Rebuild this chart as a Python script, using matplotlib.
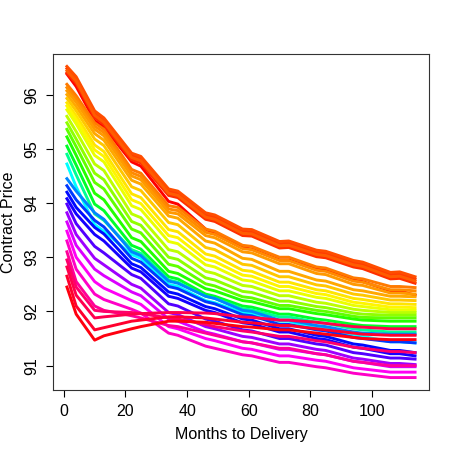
import matplotlib
matplotlib.use("Agg")
import matplotlib.pyplot as plt
from matplotlib.colors import hsv_to_rgb

months = [1, 4, 10, 13, 22, 25, 34, 37, 46, 49, 58, 61, 70, 73, 82, 85, 94, 97, 106, 109, 114]

# curves in date order (rainbow hue goes with date)
red_first = [96.38, 96.15, 95.52, 95.40, 94.76, 94.68, 94.03, 93.98, 93.52, 93.43, 93.18, 93.15, 92.95, 92.95, 92.78, 92.76, 92.58, 92.55, 92.38, 92.38, 92.30]
top_1 = [96.40, 96.21, 95.58, 95.45, 94.80, 94.74, 94.14, 94.10, 93.70, 93.66, 93.40, 93.39, 93.17, 93.18, 93.01, 92.99, 92.82, 92.79, 92.60, 92.61, 92.52]
top_2 = [96.48, 96.29, 95.66, 95.53, 94.88, 94.82, 94.22, 94.18, 93.78, 93.74, 93.48, 93.47, 93.25, 93.26, 93.09, 93.07, 92.90, 92.87, 92.68, 92.69, 92.60]
top_3 = [96.52, 96.33, 95.70, 95.57, 94.92, 94.86, 94.26, 94.22, 93.82, 93.78, 93.52, 93.51, 93.29, 93.30, 93.13, 93.11, 92.94, 92.91, 92.72, 92.73, 92.64]
top_4 = [96.44, 96.25, 95.62, 95.49, 94.84, 94.78, 94.18, 94.14, 93.74, 93.70, 93.44, 93.43, 93.21, 93.22, 93.05, 93.03, 92.86, 92.83, 92.64, 92.65, 92.56]
second_1 = [96.19, 95.98, 95.48, 95.36, 94.62, 94.55, 93.95, 93.92, 93.52, 93.48, 93.22, 93.20, 93.00, 93.00, 92.82, 92.80, 92.62, 92.60, 92.46, 92.46, 92.44]
second_2 = [96.13, 95.92, 95.42, 95.30, 94.56, 94.49, 93.89, 93.86, 93.46, 93.42, 93.16, 93.14, 92.94, 92.94, 92.76, 92.74, 92.56, 92.54, 92.40, 92.40, 92.38]
second_3 = [96.07, 95.86, 95.36, 95.24, 94.50, 94.43, 93.83, 93.80, 93.40, 93.36, 93.10, 93.08, 92.88, 92.88, 92.70, 92.68, 92.50, 92.48, 92.34, 92.34, 92.32]
yellow_1 = [96.00, 95.78, 95.28, 95.16, 94.42, 94.35, 93.76, 93.72, 93.30, 93.26, 92.98, 92.96, 92.74, 92.74, 92.58, 92.56, 92.40, 92.38, 92.28, 92.28, 92.27]
yellow_2 = [95.93, 95.70, 95.18, 95.06, 94.30, 94.23, 93.64, 93.60, 93.18, 93.14, 92.87, 92.85, 92.64, 92.64, 92.49, 92.47, 92.32, 92.30, 92.21, 92.21, 92.20]
yellow_3 = [95.85, 95.61, 95.07, 94.95, 94.17, 94.10, 93.51, 93.47, 93.06, 93.02, 92.76, 92.74, 92.54, 92.54, 92.40, 92.38, 92.24, 92.22, 92.14, 92.14, 92.13]
yellow_4 = [95.79, 95.54, 94.98, 94.86, 94.06, 93.99, 93.40, 93.36, 92.96, 92.92, 92.67, 92.65, 92.46, 92.46, 92.33, 92.31, 92.17, 92.15, 92.08, 92.08, 92.07]
yellow_5 = [95.72, 95.46, 94.88, 94.76, 93.95, 93.88, 93.29, 93.25, 92.86, 92.82, 92.58, 92.56, 92.38, 92.38, 92.26, 92.24, 92.11, 92.09, 92.03, 92.03, 92.02]
lime_1 = [95.60, 95.32, 94.72, 94.60, 93.80, 93.73, 93.14, 93.10, 92.74, 92.70, 92.48, 92.46, 92.29, 92.29, 92.17, 92.15, 92.04, 92.02, 91.98, 91.98, 91.98]
lime_2 = [95.48, 95.18, 94.55, 94.43, 93.66, 93.59, 93.00, 92.96, 92.62, 92.58, 92.37, 92.35, 92.19, 92.19, 92.09, 92.07, 91.97, 91.95, 91.93, 91.93, 91.93]
lime_3 = [95.36, 95.04, 94.38, 94.26, 93.52, 93.45, 92.87, 92.83, 92.51, 92.47, 92.27, 92.25, 92.11, 92.11, 92.02, 92.00, 91.91, 91.89, 91.88, 91.88, 91.88]
green_1 = [95.22, 94.88, 94.18, 94.06, 93.36, 93.29, 92.74, 92.70, 92.42, 92.38, 92.20, 92.18, 92.05, 92.05, 91.96, 91.94, 91.86, 91.84, 91.82, 91.82, 91.82]
green_2 = [95.05, 94.70, 93.98, 93.86, 93.22, 93.15, 92.64, 92.60, 92.32, 92.28, 92.10, 92.08, 91.95, 91.95, 91.86, 91.84, 91.76, 91.74, 91.72, 91.72, 91.72]
cyan_1 = [94.90, 94.52, 93.80, 93.68, 93.14, 93.07, 92.58, 92.54, 92.28, 92.24, 92.05, 92.03, 91.90, 91.90, 91.80, 91.78, 91.68, 91.66, 91.62, 91.62, 91.62]
cyan_2 = [94.72, 94.30, 93.60, 93.48, 93.05, 92.98, 92.50, 92.46, 92.20, 92.16, 91.98, 91.96, 91.82, 91.82, 91.70, 91.68, 91.56, 91.54, 91.44, 91.44, 91.42]
blue_1 = [94.45, 94.22, 93.82, 93.70, 93.10, 93.03, 92.56, 92.52, 92.28, 92.24, 92.02, 92.00, 91.84, 91.84, 91.74, 91.72, 91.62, 91.60, 91.58, 91.58, 91.58]
blue_2 = [94.32, 94.06, 93.68, 93.56, 92.98, 92.91, 92.46, 92.42, 92.18, 92.14, 91.94, 91.92, 91.76, 91.76, 91.66, 91.64, 91.52, 91.50, 91.44, 91.44, 91.42]
blue_3 = [94.20, 93.92, 93.55, 93.43, 92.88, 92.81, 92.36, 92.32, 92.09, 92.05, 91.86, 91.84, 91.68, 91.68, 91.56, 91.54, 91.40, 91.38, 91.28, 91.28, 91.24]
blue_4 = [94.08, 93.80, 93.42, 93.30, 92.80, 92.73, 92.28, 92.24, 92.02, 91.98, 91.79, 91.77, 91.62, 91.62, 91.50, 91.48, 91.34, 91.32, 91.22, 91.22, 91.18]
purple_1 = [93.98, 93.62, 93.20, 93.08, 92.68, 92.61, 92.14, 92.10, 91.86, 91.82, 91.66, 91.64, 91.50, 91.50, 91.40, 91.38, 91.24, 91.22, 91.14, 91.14, 91.12]
purple_2 = [93.82, 93.42, 92.98, 92.86, 92.50, 92.43, 91.98, 91.94, 91.72, 91.68, 91.54, 91.52, 91.40, 91.40, 91.30, 91.28, 91.14, 91.12, 91.04, 91.04, 91.02]
magenta_1 = [93.65, 93.22, 92.78, 92.66, 92.36, 92.29, 91.86, 91.82, 91.62, 91.58, 91.44, 91.42, 91.30, 91.30, 91.22, 91.20, 91.08, 91.06, 90.98, 90.98, 90.98]
magenta_2 = [93.48, 93.00, 92.55, 92.43, 92.20, 92.13, 91.72, 91.68, 91.50, 91.46, 91.32, 91.30, 91.18, 91.18, 91.10, 91.08, 90.96, 90.94, 90.88, 90.88, 90.88]
magenta_3 = [93.30, 92.78, 92.32, 92.22, 92.04, 91.97, 91.60, 91.56, 91.36, 91.32, 91.20, 91.18, 91.06, 91.06, 90.98, 90.96, 90.86, 90.84, 90.78, 90.78, 90.78]
pink_1 = [93.10, 92.55, 92.10, 92.02, 91.92, 91.88, 91.74, 91.72, 91.60, 91.56, 91.44, 91.42, 91.32, 91.32, 91.22, 91.20, 91.08, 91.06, 91.00, 91.00, 91.00]
pink_2 = [92.95, 92.45, 92.02, 92.00, 91.98, 91.96, 91.88, 91.86, 91.76, 91.72, 91.64, 91.62, 91.54, 91.54, 91.46, 91.44, 91.34, 91.32, 91.26, 91.26, 91.24]
red_1 = [92.82, 92.30, 91.88, 91.90, 91.95, 91.96, 91.98, 91.98, 91.97, 91.96, 91.90, 91.89, 91.84, 91.84, 91.80, 91.78, 91.72, 91.71, 91.68, 91.68, 91.68]
red_2 = [92.65, 92.10, 91.66, 91.70, 91.82, 91.84, 91.90, 91.90, 91.88, 91.86, 91.80, 91.79, 91.74, 91.74, 91.68, 91.66, 91.60, 91.58, 91.56, 91.56, 91.56]
red_3 = [92.45, 91.95, 91.47, 91.55, 91.68, 91.72, 91.82, 91.82, 91.80, 91.78, 91.72, 91.71, 91.66, 91.66, 91.60, 91.58, 91.52, 91.50, 91.48, 91.48, 91.48]

curves = [red_first, top_1, top_2, top_3, top_4, second_1, second_2, second_3,
          yellow_1, yellow_2, yellow_3, yellow_4, yellow_5, lime_1, lime_2, lime_3,
          green_1, green_2, cyan_1, cyan_2, blue_1, blue_2, blue_3, blue_4,
          purple_1, purple_2, magenta_1, magenta_2, magenta_3, pink_1, pink_2,
          red_1, red_2, red_3]
hues = [0.0, 0.03, 0.04, 0.05, 0.06, 0.08, 0.09, 0.10,
        0.11, 0.13, 0.15, 0.16, 0.18, 0.21, 0.24, 0.27,
        0.31, 0.36, 0.43, 0.50, 0.58, 0.63, 0.66, 0.68,
        0.72, 0.77, 0.81, 0.84, 0.87, 0.90, 0.93,
        0.95, 0.97, 0.99]

plt.rcParams['font.family'] = ['Liberation Sans', 'DejaVu Sans']

fig = plt.figure(figsize=(4.57, 4.57), dpi=100)
ax = fig.add_axes([53 / 457, 1 - 390 / 457, 376 / 457, 336 / 457])

for vals, h in zip(curves, hues):
    ax.plot(months, vals, color=hsv_to_rgb((h, 1, 1)), lw=2.1)

ax.margins(x=0.04, y=0.04)
ax.set_xticks([0, 20, 40, 60, 80, 100])
ax.set_yticks([91, 92, 93, 94, 95, 96])
ax.tick_params(direction='out', length=5, width=0.8, labelsize=11.5, pad=5)
for lab in ax.get_yticklabels():
    lab.set_rotation(90)
    lab.set_va('center')
for sp in ax.spines.values():
    sp.set_linewidth(0.8)
    sp.set_color('#333333')

ax.set_xlabel('Months to Delivery', fontsize=11.5, va='center')
ax.set_ylabel('Contract Price', fontsize=11.5, va='center')
ax.xaxis.set_label_coords(0.5, (390 - 435) / 336)
ax.yaxis.set_label_coords((9 - 53) / 376, 0.5)

fig.savefig('out.png', dpi=100)
